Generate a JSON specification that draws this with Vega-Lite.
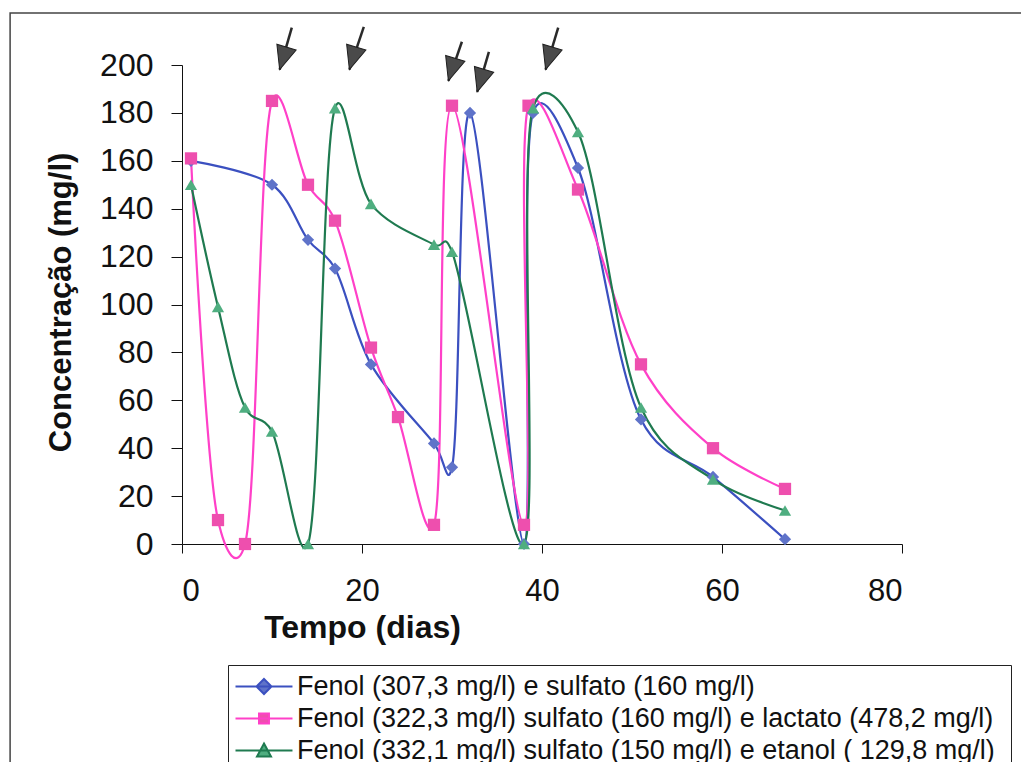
{
  "$schema": "https://vega.github.io/schema/vega-lite/v6.json",
  "width": 720,
  "height": 479,
  "autosize": {"type": "none"},
  "padding": {"left": 182, "top": 65, "right": 119, "bottom": 218},
  "background": "white",
  "config": {
    "view": {"stroke": null},
    "font": "Liberation Sans"
  },
  "datasets": {
    "dados": [
      {"serie": "Fenol (307,3 mg/l) e sulfato (160 mg/l)", "dia": 1, "conc": 160},
      {"serie": "Fenol (307,3 mg/l) e sulfato (160 mg/l)", "dia": 10, "conc": 150},
      {"serie": "Fenol (307,3 mg/l) e sulfato (160 mg/l)", "dia": 14, "conc": 127},
      {"serie": "Fenol (307,3 mg/l) e sulfato (160 mg/l)", "dia": 17, "conc": 115},
      {"serie": "Fenol (307,3 mg/l) e sulfato (160 mg/l)", "dia": 21, "conc": 75},
      {"serie": "Fenol (307,3 mg/l) e sulfato (160 mg/l)", "dia": 28, "conc": 42},
      {"serie": "Fenol (307,3 mg/l) e sulfato (160 mg/l)", "dia": 30, "conc": 32},
      {"serie": "Fenol (307,3 mg/l) e sulfato (160 mg/l)", "dia": 32, "conc": 180},
      {"serie": "Fenol (307,3 mg/l) e sulfato (160 mg/l)", "dia": 38, "conc": 0},
      {"serie": "Fenol (307,3 mg/l) e sulfato (160 mg/l)", "dia": 39, "conc": 180},
      {"serie": "Fenol (307,3 mg/l) e sulfato (160 mg/l)", "dia": 44, "conc": 157},
      {"serie": "Fenol (307,3 mg/l) e sulfato (160 mg/l)", "dia": 51, "conc": 52},
      {"serie": "Fenol (307,3 mg/l) e sulfato (160 mg/l)", "dia": 59, "conc": 28},
      {"serie": "Fenol (307,3 mg/l) e sulfato (160 mg/l)", "dia": 67, "conc": 2},
      {"serie": "Fenol (322,3 mg/l)  sulfato (160 mg/l) e lactato (478,2 mg/l)", "dia": 1, "conc": 161},
      {"serie": "Fenol (322,3 mg/l)  sulfato (160 mg/l) e lactato (478,2 mg/l)", "dia": 4, "conc": 10},
      {"serie": "Fenol (322,3 mg/l)  sulfato (160 mg/l) e lactato (478,2 mg/l)", "dia": 7, "conc": 0},
      {"serie": "Fenol (322,3 mg/l)  sulfato (160 mg/l) e lactato (478,2 mg/l)", "dia": 10, "conc": 185},
      {"serie": "Fenol (322,3 mg/l)  sulfato (160 mg/l) e lactato (478,2 mg/l)", "dia": 14, "conc": 150},
      {"serie": "Fenol (322,3 mg/l)  sulfato (160 mg/l) e lactato (478,2 mg/l)", "dia": 17, "conc": 135},
      {"serie": "Fenol (322,3 mg/l)  sulfato (160 mg/l) e lactato (478,2 mg/l)", "dia": 21, "conc": 82},
      {"serie": "Fenol (322,3 mg/l)  sulfato (160 mg/l) e lactato (478,2 mg/l)", "dia": 24, "conc": 53},
      {"serie": "Fenol (322,3 mg/l)  sulfato (160 mg/l) e lactato (478,2 mg/l)", "dia": 28, "conc": 8},
      {"serie": "Fenol (322,3 mg/l)  sulfato (160 mg/l) e lactato (478,2 mg/l)", "dia": 30, "conc": 183},
      {"serie": "Fenol (322,3 mg/l)  sulfato (160 mg/l) e lactato (478,2 mg/l)", "dia": 38, "conc": 8},
      {"serie": "Fenol (322,3 mg/l)  sulfato (160 mg/l) e lactato (478,2 mg/l)", "dia": 38.5, "conc": 183},
      {"serie": "Fenol (322,3 mg/l)  sulfato (160 mg/l) e lactato (478,2 mg/l)", "dia": 44, "conc": 148},
      {"serie": "Fenol (322,3 mg/l)  sulfato (160 mg/l) e lactato (478,2 mg/l)", "dia": 51, "conc": 75},
      {"serie": "Fenol (322,3 mg/l)  sulfato (160 mg/l) e lactato (478,2 mg/l)", "dia": 59, "conc": 40},
      {"serie": "Fenol (322,3 mg/l)  sulfato (160 mg/l) e lactato (478,2 mg/l)", "dia": 67, "conc": 23},
      {"serie": "Fenol (332,1 mg/l)  sulfato (150 mg/l) e etanol ( 129,8 mg/l)", "dia": 1, "conc": 150},
      {"serie": "Fenol (332,1 mg/l)  sulfato (150 mg/l) e etanol ( 129,8 mg/l)", "dia": 4, "conc": 99},
      {"serie": "Fenol (332,1 mg/l)  sulfato (150 mg/l) e etanol ( 129,8 mg/l)", "dia": 7, "conc": 57},
      {"serie": "Fenol (332,1 mg/l)  sulfato (150 mg/l) e etanol ( 129,8 mg/l)", "dia": 10, "conc": 47},
      {"serie": "Fenol (332,1 mg/l)  sulfato (150 mg/l) e etanol ( 129,8 mg/l)", "dia": 14, "conc": 0},
      {"serie": "Fenol (332,1 mg/l)  sulfato (150 mg/l) e etanol ( 129,8 mg/l)", "dia": 17, "conc": 182},
      {"serie": "Fenol (332,1 mg/l)  sulfato (150 mg/l) e etanol ( 129,8 mg/l)", "dia": 21, "conc": 142},
      {"serie": "Fenol (332,1 mg/l)  sulfato (150 mg/l) e etanol ( 129,8 mg/l)", "dia": 28, "conc": 125},
      {"serie": "Fenol (332,1 mg/l)  sulfato (150 mg/l) e etanol ( 129,8 mg/l)", "dia": 30, "conc": 122},
      {"serie": "Fenol (332,1 mg/l)  sulfato (150 mg/l) e etanol ( 129,8 mg/l)", "dia": 38, "conc": 0},
      {"serie": "Fenol (332,1 mg/l)  sulfato (150 mg/l) e etanol ( 129,8 mg/l)", "dia": 39, "conc": 182},
      {"serie": "Fenol (332,1 mg/l)  sulfato (150 mg/l) e etanol ( 129,8 mg/l)", "dia": 44, "conc": 172},
      {"serie": "Fenol (332,1 mg/l)  sulfato (150 mg/l) e etanol ( 129,8 mg/l)", "dia": 51, "conc": 57},
      {"serie": "Fenol (332,1 mg/l)  sulfato (150 mg/l) e etanol ( 129,8 mg/l)", "dia": 59, "conc": 27},
      {"serie": "Fenol (332,1 mg/l)  sulfato (150 mg/l) e etanol ( 129,8 mg/l)", "dia": 67, "conc": 14}
    ],
    "setas": [
      {"dia": 12.2, "conc": 215.6, "dia2": 10.85, "conc2": 198.1},
      {"dia": 20.2, "conc": 215.9, "dia2": 18.6, "conc2": 198.1},
      {"dia": 31.1, "conc": 209.7, "dia2": 29.6, "conc2": 193.4},
      {"dia": 34.1, "conc": 205.5, "dia2": 32.8, "conc2": 188.8},
      {"dia": 41.8, "conc": 215.6, "dia2": 40.4, "conc2": 198.1}
    ],
    "moldura": [
      {"dia": -19.1, "conc": 221.7, "dia2": 100, "conc2": -100}
    ]
  },
  "layer": [
    {
      "data": {"name": "moldura"},
      "mark": {"type": "rect", "fill": null, "fillOpacity": 0, "stroke": "#444444", "strokeWidth": 1.5},
      "encoding": {
        "x": {"field": "dia", "type": "quantitative", "scale": {"domain": [0, 80], "nice": false, "zero": false}},
        "x2": {"field": "dia2"},
        "y": {"field": "conc", "type": "quantitative", "scale": {"domain": [0, 200], "nice": false}},
        "y2": {"field": "conc2"}
      }
    },
    {
      "data": {"name": "dados"},
      "mark": {"type": "line", "interpolate": "catmull-rom", "tension": 0.2, "strokeWidth": 2.2},
      "encoding": {
        "x": {
          "field": "dia", "type": "quantitative",
          "scale": {"domain": [0, 80], "nice": false, "zero": false},
          "axis": {
            "values": [0, 20, 40, 60, 80],
            "grid": false,
            "domainColor": "#111111",
            "tickColor": "#111111",
            "tickSize": 9,
            "labelFontSize": 31,
            "labelColor": "#111111",
            "labelPadding": 23,
            "labelFont": "Liberation Sans",
            "title": "Tempo (dias)",
            "titleFont": "Liberation Sans",
            "titleFontSize": 32,
            "titleFontWeight": "bold",
            "titleColor": "#111111",
            "titleX": 180,
            "titleY": 93,
            "titleBaseline": "alphabetic",
            "titleAnchor": null,
            "titleAlign": "center"
          }
        },
        "y": {
          "field": "conc", "type": "quantitative",
          "scale": {"domain": [0, 200], "nice": false},
          "axis": {
            "values": [0, 20, 40, 60, 80, 100, 120, 140, 160, 180, 200],
            "grid": false,
            "domainColor": "#111111",
            "tickColor": "#111111",
            "tickSize": 11,
            "labelFontSize": 32,
            "labelColor": "#111111",
            "labelPadding": 18,
            "labelFont": "Liberation Sans",
            "title": "Concentração (mg/l)",
            "titleFont": "Liberation Sans",
            "titleFontSize": 31,
            "titleFontWeight": "bold",
            "titleColor": "#111111",
            "titleX": -121,
            "titleY": 237,
            "titleAngle": -90,
            "titleBaseline": "middle",
            "titleAlign": "center",
            "titleAnchor": null
          }
        },
        "color": {
          "field": "serie", "type": "nominal",
          "scale": {
            "domain": [
              "Fenol (307,3 mg/l) e sulfato (160 mg/l)",
              "Fenol (322,3 mg/l)  sulfato (160 mg/l) e lactato (478,2 mg/l)",
              "Fenol (332,1 mg/l)  sulfato (150 mg/l) e etanol ( 129,8 mg/l)"
            ],
            "range": ["#3b50c0", "#ff40c8", "#1f7a50"]
          },
          "legend": {
            "orient": "none",
            "legendX": 46,
            "legendY": 600,
            "title": null,
            "padding": 8,
            "strokeColor": "#222222",
            "labelFont": "Liberation Sans",
            "labelFontSize": 27,
            "labelColor": "#111111",
            "labelLimit": 2000,
            "labelOffset": 34,
            "rowPadding": 4,
            "symbolSize": 196,
            "symbolStrokeWidth": 2,
            "encode": {
              "symbols": {
                "update": {
                  "shape": {"signal": "indexof(datum.value, 'lactato') >= 0 ? 'M-2,0L6.14,0M1.36,-0.71L2.78,-0.71L2.78,0.71L1.36,0.71Z' : (indexof(datum.value, 'etanol') >= 0 ? 'M-2,0L6.14,0M2.07,-1L3.07,0.86L1.07,0.86Z' : 'M-2,0L6.14,0M2.07,-1.07L3.14,0L2.07,1.07L1,0Z')"},
                  "fill": {"signal": "indexof(datum.value, 'lactato') >= 0 ? '#ee4fae' : (indexof(datum.value, 'etanol') >= 0 ? '#4fae80' : '#5f73c9')"},
                  "stroke": {"signal": "indexof(datum.value, 'lactato') >= 0 ? '#ff40c8' : (indexof(datum.value, 'etanol') >= 0 ? '#1f7a50' : '#3b50c0')"},
                  "fillOpacity": {"value": 1},
                  "strokeOpacity": {"value": 1},
                  "strokeWidth": {"value": 2}
                }
              }
            }
          }
        }
      }
    },
    {
      "data": {"name": "dados"},
      "mark": {"type": "point", "filled": true, "size": 150, "opacity": 1},
      "encoding": {
        "x": {"field": "dia", "type": "quantitative"},
        "y": {"field": "conc", "type": "quantitative"},
        "shape": {
          "condition": [
            {"test": "indexof(datum.serie, 'lactato') >= 0", "value": "square"},
            {"test": "indexof(datum.serie, 'etanol') >= 0", "value": "triangle-up"}
          ],
          "value": "diamond"
        },
        "fill": {
          "condition": [
            {"test": "indexof(datum.serie, 'lactato') >= 0", "value": "#ee4fae"},
            {"test": "indexof(datum.serie, 'etanol') >= 0", "value": "#4fae80"}
          ],
          "value": "#5f73c9"
        }
      }
    },
    {
      "data": {"name": "setas"},
      "mark": {"type": "rule", "stroke": "#2a2a2a", "strokeWidth": 2.5},
      "encoding": {
        "x": {"field": "dia", "type": "quantitative"},
        "y": {"field": "conc", "type": "quantitative"},
        "x2": {"field": "dia2"},
        "y2": {"field": "conc2"}
      }
    },
    {
      "data": {"name": "setas"},
      "mark": {"type": "point", "filled": true, "shape": "M0,0L-0.9,-2.1L0.9,-2.1Z", "size": 500, "angle": 17, "fill": "#4a4a4a", "stroke": "#1e1e1e", "strokeWidth": 1, "opacity": 1},
      "encoding": {
        "x": {"field": "dia2", "type": "quantitative"},
        "y": {"field": "conc2", "type": "quantitative"}
      }
    }
  ]
}
